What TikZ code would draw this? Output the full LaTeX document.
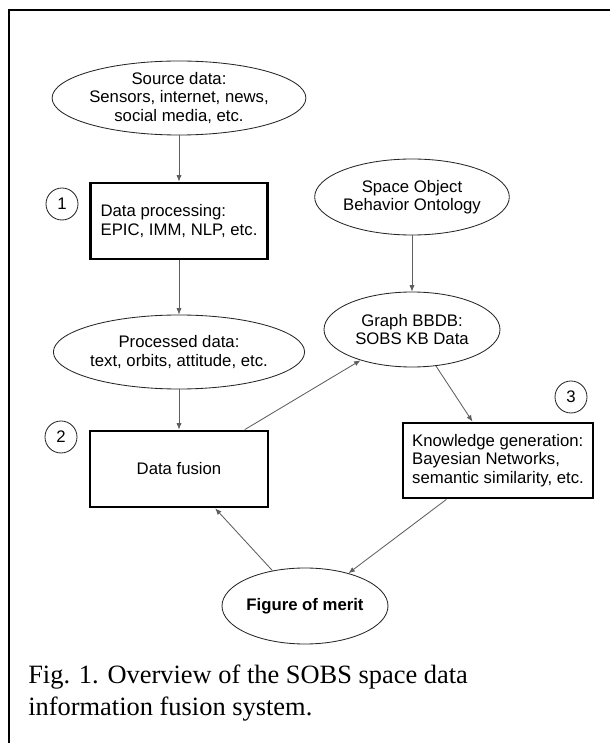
\documentclass[tikz,border=0pt]{standalone}
\usepackage{fontspec}
\setmainfont{Liberation Serif}
\setsansfont{Liberation Sans}
\usepackage{tikz}
\usetikzlibrary{positioning,arrows.meta,shapes.geometric}
\definecolor{ink}{HTML}{262626}
\definecolor{edge}{HTML}{5E5E5E}
\tikzset{
  box/.style   ={draw=black, line width=2pt, minimum width=4.425cm,
                 minimum height=1.9cm, align=left, inner sep=0pt,
                 font=\sffamily\fontsize{11.9}{13.2}\selectfont},
  ell/.style   ={ellipse, draw=ink, line width=0.6pt, align=center, inner sep=0pt,
                 minimum height=1.9cm, font=\sffamily\fontsize{11.9}{13.2}\selectfont},
  % step numbers
  num/.style   ={circle, draw=ink, line width=0.6pt, minimum size=0.8cm, inner sep=0pt,
                 font=\sffamily\fontsize{11.9}{13.2}\selectfont},
  flow/.style  ={-{Latex[length=1.6mm,width=1.3mm]}, edge, line width=0.6pt},
  figcap/.style={align=left, inner sep=0pt, font=\rmfamily\fontsize{18.8}{22.7}\selectfont},
}
\begin{document}
\begin{tikzpicture}
    \useasboundingbox (0,0) rectangle (15.25,18.575);
    \draw[line width=1.4pt] (0.225,0) |- (15.25,18.325);
    % left column
    \node[ell, minimum width=5.675cm, minimum height=1.85cm] (SRC) at (4.475,16.125)
      {Source data:\\Sensors, internet, news,\\social media, etc.};
    \node[box] (DP) at (4.475,13.05) {Data processing:\\EPIC, IMM, NLP, etc.};
    \node[num] (N1) at (1.55,13.475) {1};
    \node[ell, minimum width=5.35cm, minimum height=1.85cm] (PD) at (4.475,9.775)
      {Processed data:\\text, orbits, attitude, etc.};
    \node[box, minimum width=4.45cm, align=center] (DF) at (4.475,6.85) {Data fusion};
    \node[num] (N2) at (1.525,7.65) {2};
    % right column
    \node[ell, minimum width=4.425cm] (ONT) at (10.3,13.65)
      {Space Object\\Behavior Ontology};
    \node[ell, minimum width=4.4cm, minimum height=1.875cm] (KB) at (10.3,10.3375)
      {Graph BBDB:\\SOBS KB Data};
    \node[box, minimum width=4.75cm, minimum height=1.875cm] (KG) at (12.45,7.0625)
      {Knowledge generation:\\Bayesian Networks,\\semantic similarity, etc.};
    \node[num] (N3) at (14.275,8.65) {3};
    \node[ell, minimum width=4.15cm, font=\sffamily\bfseries\fontsize{11.9}{13.2}\selectfont]
      (FM) at (7.625,3.425) {Figure of merit};
    % connectors
    \draw[flow] (SRC) -- (DP);
    \draw[flow] (DP) -- (PD);
    \draw[flow] (PD) -- (DF);
    \draw[flow] (ONT) -- (KB);
    \draw[flow] (DF) -- (KB);
    \draw[flow] (KB) -- (KG);
    \draw[flow] (KG) -- (FM);
    \draw[flow] (FM) -- (DF);
    % caption
    \node[figcap, anchor=north west] (CAP) at (0.7,1.97)
      {Fig. 1. Overview of the SOBS space data\\information fusion system.};
\end{tikzpicture}
\end{document}
